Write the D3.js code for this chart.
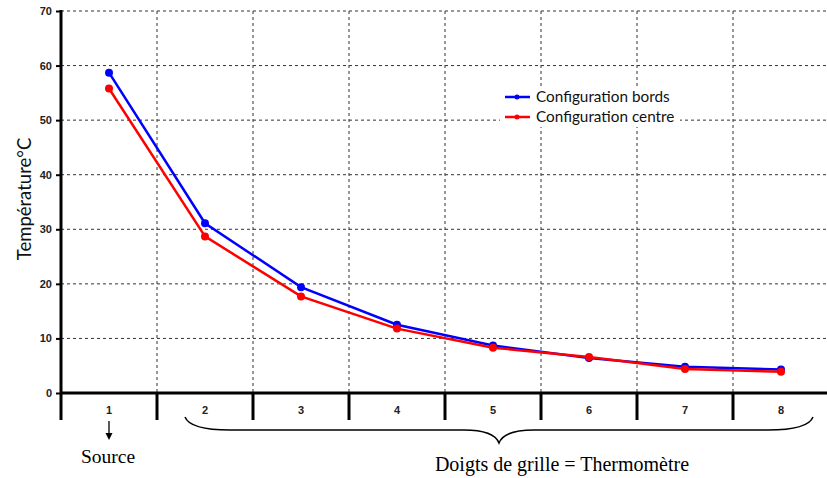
<!DOCTYPE html>
<html><head><meta charset="utf-8">
<script src="https://cdn.jsdelivr.net/npm/d3@7"></script>
<style>body{margin:0;background:#fff}svg{display:block}</style>
</head><body>
<svg id="c" width="827" height="478"></svg>
<script>
const categories = ["1","2","3","4","5","6","7","8"];
const bords  = [58.7, 31.1, 19.4, 12.5, 8.7, 6.4, 4.8, 4.3];
const centre = [55.8, 28.7, 17.7, 11.8, 8.3, 6.6, 4.4, 3.9];
const yTicks = [0,10,20,30,40,50,60,70];
const seriesNames = ["Configuration bords","Configuration centre"];
const colors = ["#0000ff","#ff0000"];

const svg = d3.select("#c");
const x = d3.scaleBand().domain(categories).range([61, 829]);
const y = d3.scaleLinear().domain([0,70]).range([393, 11]);

// grid
const g = svg.append("g");
g.selectAll("line.h").data(yTicks.filter(d=>d>0)).enter().append("line")
  .attr("x1",61).attr("x2",827).attr("y1",d=>y(d)).attr("y2",d=>y(d))
  .attr("stroke","#333").attr("stroke-width",1).attr("stroke-dasharray","3,3");
g.selectAll("line.v").data(categories.slice(1)).enter().append("line")
  .attr("x1",d=>x(d)).attr("x2",d=>x(d)).attr("y1",y(70)).attr("y2",y(0))
  .attr("stroke","#333").attr("stroke-width",1).attr("stroke-dasharray","3,3");

// y axis
const yAxis = d3.axisLeft(y).tickValues(yTicks).tickSize(5).tickPadding(4);
const ya = svg.append("g").attr("transform","translate(61,0)").call(yAxis);
ya.select(".domain").remove();
ya.selectAll("line").attr("stroke","#000").attr("stroke-width",2);
ya.selectAll("text").attr("font-family","Liberation Sans, Arial, sans-serif")
  .attr("font-weight","bold").attr("font-size",11).attr("fill","#222");
svg.append("line").attr("x1",61).attr("x2",61).attr("y1",y(70)-1).attr("y2",420)
  .attr("stroke","#000").attr("stroke-width",3);

// x axis
svg.append("line").attr("x1",60).attr("x2",827).attr("y1",y(0)).attr("y2",y(0))
  .attr("stroke","#000").attr("stroke-width",3);
svg.selectAll("line.xt").data(categories.slice(1)).enter().append("line")
  .attr("x1",d=>x(d)).attr("x2",d=>x(d)).attr("y1",y(0)).attr("y2",420)
  .attr("stroke","#000").attr("stroke-width",3);
svg.selectAll("text.xl").data(categories).enter().append("text")
  .attr("x",d=>x(d)+x.bandwidth()/2).attr("y",414).attr("text-anchor","middle")
  .attr("font-family","Liberation Sans Narrow, Arial Narrow, Liberation Sans, sans-serif")
  .attr("font-weight","bold").attr("font-size",11).attr("fill","#222").text(d=>d);

// series
const line = d3.line().x((d,i)=>x(categories[i])+x.bandwidth()/2).y(d=>y(d));
[bords, centre].forEach((s,k)=>{
  svg.append("path").datum(s).attr("d",line).attr("fill","none")
    .attr("stroke",colors[k]).attr("stroke-width",2.5);
  svg.selectAll(null).data(s).enter().append("circle")
    .attr("cx",(d,i)=>x(categories[i])+x.bandwidth()/2).attr("cy",d=>y(d))
    .attr("r",4).attr("fill",colors[k]);
});

// legend
seriesNames.forEach((n,k)=>{
  const ly = 97 + k*20;
  svg.append("rect").attr("x",500).attr("y",ly-10).attr("width",180).attr("height",20).attr("fill","#fff");
  svg.append("line").attr("x1",505).attr("x2",530).attr("y1",ly).attr("y2",ly)
    .attr("stroke",colors[k]).attr("stroke-width",2.5);
  svg.append("circle").attr("cx",517).attr("cy",ly).attr("r",2.5).attr("fill",colors[k]);
  svg.append("text").attr("x",536).attr("y",ly+5).attr("font-family","Lato, sans-serif")
    .attr("font-size",15.3).attr("fill","#111").text(n);
});

// y label
svg.append("text").attr("transform","translate(31,199) rotate(-90)").attr("text-anchor","middle")
  .attr("font-family","Lato, sans-serif").attr("font-size",18.5).attr("fill","#111").text("Température°C");

// Source annotation
const sx = x("1")+x.bandwidth()/2;
svg.append("line").attr("x1",sx).attr("x2",sx).attr("y1",421).attr("y2",434).attr("stroke","#000").attr("stroke-width",1.3);
svg.append("path").attr("d",`M${sx-3.5},433 L${sx+3.5},433 L${sx},440 Z`).attr("fill","#000");
svg.append("text").attr("x",sx-1).attr("y",463).attr("text-anchor","middle")
  .attr("font-family","Liberation Serif, Times New Roman, serif").attr("font-size",19.5).attr("fill","#000").text("Source");

// brace
const bx0 = x("2")+28, bx1 = x("8")+x.bandwidth()-16, bm = x("5")+x.bandwidth()/2+6;
const bTop = 417, bMid = 430, bTip = 443;
svg.append("path").attr("d",
  `M${bx0},${bTop} Q${bx0+5},${bMid} ${bx0+45},${bMid} L${bm-35},${bMid} Q${bm-5},${bMid} ${bm},${bTip} ` +
  `Q${bm+5},${bMid} ${bm+35},${bMid} L${bx1-45},${bMid} Q${bx1-5},${bMid} ${bx1},${bTop}`)
  .attr("fill","none").attr("stroke","#000").attr("stroke-width",1.5);
svg.append("text").attr("x",562).attr("y",471).attr("text-anchor","middle")
  .attr("font-family","Liberation Serif, Times New Roman, serif").attr("font-size",20).attr("fill","#000").text("Doigts de grille = Thermomètre");
</script>
</body></html>
